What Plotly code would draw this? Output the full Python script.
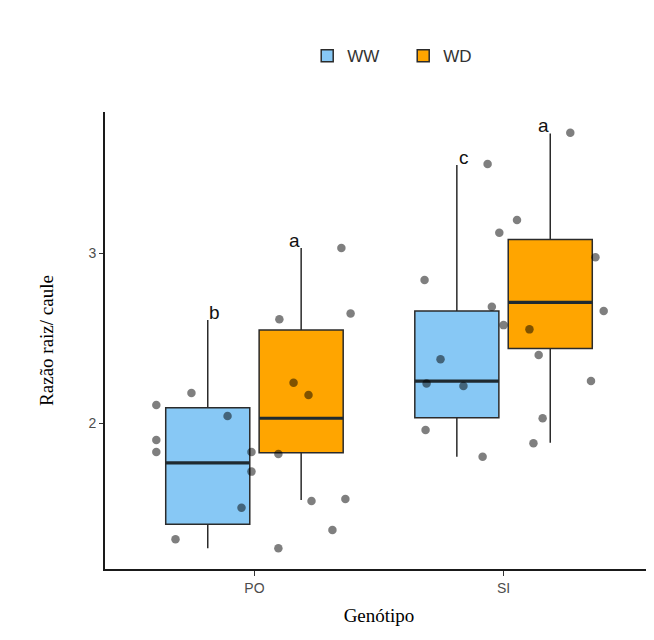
import plotly.graph_objects as go

# ---------------- data ----------------
categories = ["PO", "SI"]
cat_pos = [1, 2]
groups = ["WW", "WD"]

# box statistics per group (PO, SI)
ww_q1 = [1.404, 2.031]
ww_median = [1.766, 2.247]
ww_q3 = [2.090, 2.659]
ww_low = [1.263, 1.802]
ww_high = [2.606, 3.518]

wd_q1 = [1.825, 2.439]
wd_median = [2.028, 2.710]
wd_q3 = [2.547, 3.080]
wd_low = [1.547, 1.884]
wd_high = [3.030, 3.704]

# significance letters
ww_letters = ["b", "c"]
wd_letters = ["a", "a"]

# jittered raw observations: values and horizontal jitter (category units)
po_values = [2.106, 2.176, 1.900, 1.829, 2.041, 1.830, 1.714, 1.502, 1.316,
             2.610, 2.645, 2.237, 2.165, 1.818, 1.541, 1.553, 1.371, 1.263, 3.030]
po_jitter = [-0.394, -0.253, -0.394, -0.394, -0.108, -0.012, -0.012, -0.052, -0.317,
             0.100, 0.386, 0.157, 0.217, 0.096, 0.229, 0.365, 0.313, 0.096, 0.349]
si_values = [3.708, 3.524, 3.194, 3.120, 2.841, 2.975, 2.684, 2.659, 2.576, 2.551,
             2.375, 2.233, 2.218, 2.400, 2.247, 1.959, 2.028, 1.881, 1.802]
si_jitter = [0.268, -0.064, 0.054, -0.017, -0.317, 0.369, -0.047, 0.402, 0.000, 0.104,
             -0.253, -0.309, -0.161, 0.141, 0.351, -0.313, 0.157, 0.120, -0.084]

# ---------------- styles ----------------
WW_FILL = "#87C8F5"
WD_FILL = "#FFA500"
EDGE = "#2b2b2b"
MEDIAN = "#1f2a30"
TICK_FONT = dict(family="Liberation Sans, Arial, sans-serif", size=14, color="#4d4d4d")
TITLE_FONT = dict(family="Liberation Serif, Times New Roman, serif", size=19, color="#000000")

gap = 0.25
groupgap = 0.1
half_slot = 0.5 * (1 - gap) / 2          # dodge offset of each box from category centre
half_box = half_slot * (1 - groupgap)     # half width of each box
letter_offset = 0.16                      # dodge offset of the letters

fig = go.Figure()

for name, q1, med, q3, lo, hi, fill in (
    ("WW", ww_q1, ww_median, ww_q3, ww_low, ww_high, WW_FILL),
    ("WD", wd_q1, wd_median, wd_q3, wd_low, wd_high, WD_FILL),
):
    fig.add_trace(go.Box(
        name=name, x=cat_pos, q1=q1, median=med, q3=q3,
        lowerfence=lo, upperfence=hi,
        fillcolor=fill, line=dict(color=EDGE, width=1.5),
        boxpoints=False, whiskerwidth=0, hoverinfo="skip",
    ))

# thick median bars (ggplot style)
for med, sign in ((ww_median, -1), (wd_median, 1)):
    mx, my = [], []
    for c, m in zip(cat_pos, med):
        ctr = c + sign * half_slot
        mx += [ctr - half_box, ctr + half_box, None]
        my += [m, m, None]
    fig.add_trace(go.Scatter(x=mx, y=my, mode="lines", showlegend=False, hoverinfo="skip",
                             line=dict(color=MEDIAN, width=3.2)))

# points (jitter around category centre)
pt_x = [cat_pos[0] + j for j in po_jitter] + [cat_pos[1] + j for j in si_jitter]
pt_y = po_values + si_values
fig.add_trace(go.Scatter(
    x=pt_x, y=pt_y, mode="markers", showlegend=False, hoverinfo="skip",
    marker=dict(size=8.5, color="rgba(0,0,0,0.5)", line=dict(width=0)),
))

for i, c in enumerate(cat_pos):
    for letters, highs, sign in ((ww_letters, ww_high, -1), (wd_letters, wd_high, 1)):
        fig.add_annotation(
            x=c + sign * letter_offset, y=highs[i], text=letters[i],
            showarrow=False, xanchor="center", yanchor="bottom", yshift=-5,
            font=dict(family="Liberation Sans, Arial, sans-serif", size=19, color="#111111"),
        )

fig.update_layout(
    width=646, height=632,
    margin=dict(l=97, r=1, t=104, b=71),
    plot_bgcolor="white", paper_bgcolor="white",
    boxmode="group", boxgap=gap, boxgroupgap=groupgap,
    legend=dict(orientation="h", x=0.369, xanchor="left", y=1.122, yanchor="middle",
                font=dict(family="Liberation Sans, Arial, sans-serif", size=17, color="#333333"),
                entrywidth=51, entrywidthmode="pixels"),
    showlegend=True,
)
fig.update_xaxes(
    range=[0.4, 2.6], tickvals=cat_pos, ticktext=categories,
    showline=True, linecolor="#1a1a1a", linewidth=1.6, showgrid=False, zeroline=False,
    ticks="outside", ticklen=5, tickcolor="#333333", tickfont=TICK_FONT,
    title=dict(text="Genótipo", font=TITLE_FONT, standoff=14),
)
fig.update_yaxes(
    range=[1.141, 3.83], tickvals=[2, 3], ticktext=["2", "3"],
    showline=True, linecolor="#1a1a1a", linewidth=1.6, showgrid=False, zeroline=False,
    ticks="outside", ticklen=4, tickcolor="#333333", tickfont=TICK_FONT,
    title=dict(text="Razão raiz/ caule", font=TITLE_FONT, standoff=30),
)

fig.write_html("out.html")
